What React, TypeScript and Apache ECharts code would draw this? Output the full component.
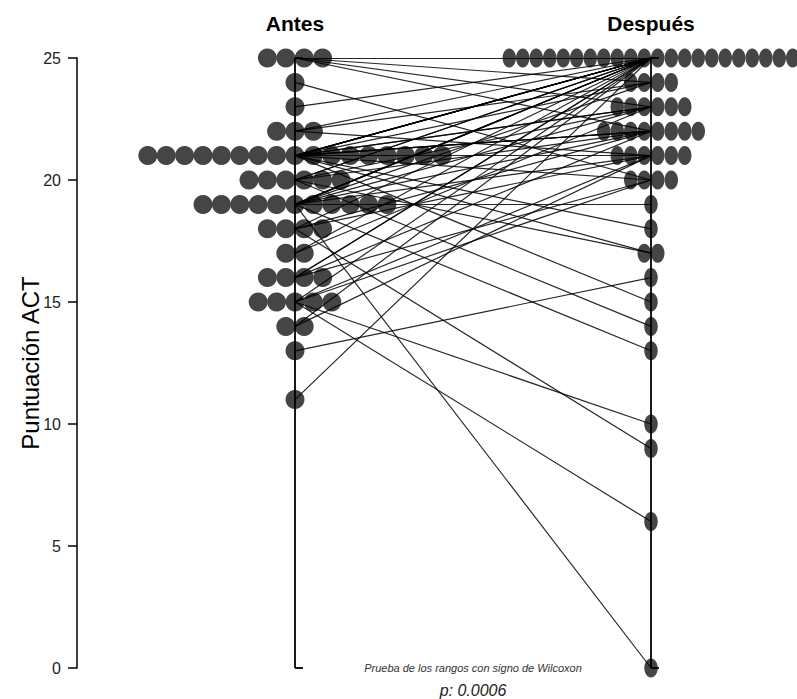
import React, { useEffect, useRef } from "react";
import * as echarts from "echarts";

const groups = ["Antes", "Después"];
const groupPos = [1, 2];
const antes = [
  25, 25, 25, 25, 24, 23, 22, 22, 22,
  21, 21, 21, 21, 21, 21, 21, 21, 21, 21, 21, 21, 21, 21, 21, 21, 21,
  20, 20, 20, 20, 20, 20,
  19, 19, 19, 19, 19, 19, 19, 19, 19, 19, 19,
  18, 18, 18, 18, 17, 17, 16, 16, 16, 16, 15, 15, 15, 15, 15, 14, 14, 13, 11,
];
const despues = [
  25, 24, 23, 22, 20, 25, 25, 24, 21,
  25, 25, 25, 25, 25, 25, 24, 23, 23, 22, 22, 22, 21, 20, 18, 17, 15,
  25, 25, 23, 22, 17, 14,
  25, 25, 25, 25, 24, 23, 22, 21, 19, 13, 0,
  25, 22, 21, 9, 25, 23, 25, 25, 22, 20, 25, 21, 20, 10, 6, 25, 21, 16, 25,
];
const yTicks = [0, 5, 10, 15, 20, 25];
const yName = "Puntuación ACT";
const testName = "Prueba de los rangos con signo de Wilcoxon";
const pText = "p: 0.0006";

const FONT = "Liberation Sans";

function dotLayout(values: number[], center: number, step: number) {
  const counts = new Map<number, number>();
  values.forEach((v) => counts.set(v, (counts.get(v) || 0) + 1));
  const out: number[][] = [];
  Array.from(counts.keys())
    .sort((a, b) => a - b)
    .forEach((v) => {
      const n = counts.get(v) as number;
      for (let i = 0; i < n; i++) out.push([center + (i - (n - 1) / 2) * step, v]);
    });
  return out;
}

export default function App() {
  const ref = useRef<HTMLDivElement>(null);
  useEffect(() => {
    if (!ref.current) return;
    const chart = echarts.init(ref.current, null, { renderer: "svg" });
    const W = 797;
    const gridLeft = 77;
    const pxPerUnit = 356;
    const xMin = groupPos[0] - (295 - gridLeft) / pxPerUnit;
    const xMax = xMin + (W - gridLeft) / pxPerUnit;
    const stepA = 18.4 / pxPerUnit;
    const stepD = 13.5 / pxPerUnit;
    const tick = 8 / pxPerUnit;
    const yMin = yTicks[0];
    const yMax = yTicks[yTicks.length - 1];

    const pairLines = antes.map((a, i) => ({
      coords: [
        [groupPos[0], a],
        [groupPos[1], despues[i]],
      ],
    }));
    const frameLines: any[] = [];
    groupPos.forEach((x) => {
      frameLines.push({ coords: [[x, yMin], [x, yMax]] });
      frameLines.push({ coords: [[x, yMin], [x + tick, yMin]] });
      frameLines.push({ coords: [[x, yMax], [x + tick, yMax]] });
    });

    chart.setOption({
      animation: false,
      grid: { left: gridLeft, right: 0, top: 58, bottom: 31 },
      xAxis: {
        type: "value",
        position: "top",
        min: xMin,
        max: xMax,
        splitLine: { show: false },
        axisLine: { show: false },
        axisTick: { show: false },
        axisLabel: {
          customValues: groupPos,
          formatter: (v: number) => groups[groupPos.indexOf(v)] ?? "",
          fontFamily: FONT,
          fontWeight: "bold",
          fontSize: 21,
          color: "#000",
          margin: 24,
        },
      },
      yAxis: {
        type: "value",
        min: yMin,
        max: yMax,
        interval: 5,
        name: yName,
        nameLocation: "middle",
        nameRotate: 90,
        nameGap: 35,
        nameMoveOverlap: false,
        nameTextStyle: { fontFamily: FONT, fontSize: 24, color: "#000" },
        splitLine: { show: false },
        axisLine: { show: true, lineStyle: { color: "#000", width: 1.5 } },
        axisTick: { show: true, length: 9, lineStyle: { color: "#000", width: 1.5 } },
        axisLabel: { fontFamily: FONT, fontSize: 16, color: "#222", margin: 16 },
      },
      series: [
        {
          type: "scatter",
          clip: false,
          silent: true,
          symbol: "circle",
          symbolSize: 19,
          itemStyle: { color: "#454545", opacity: 1 },
          data: dotLayout(antes, groupPos[0], stepA),
          z: 2,
        },
        {
          type: "scatter",
          clip: false,
          silent: true,
          symbol: "circle",
          symbolSize: [13.5, 19],
          itemStyle: { color: "#454545", opacity: 1 },
          data: dotLayout(despues, groupPos[1], stepD),
          z: 2,
        },
        {
          type: "lines",
          coordinateSystem: "cartesian2d",
          silent: true,
          lineStyle: { color: "#000", width: 1.2, opacity: 0.85 },
          data: pairLines,
          z: 3,
        },
        {
          type: "lines",
          coordinateSystem: "cartesian2d",
          silent: true,
          lineStyle: { color: "#000", width: 1.8, opacity: 1 },
          data: frameLines,
          z: 4,
        },
      ],
    });

    const mid = chart.convertToPixel({ gridIndex: 0 }, [
      (groupPos[0] + groupPos[1]) / 2,
      yMin,
    ]) as number[];
    chart.setOption({
      graphic: [
        {
          type: "text",
          x: mid[0],
          y: mid[1],
          style: {
            text: testName,
            fontFamily: FONT,
            fontStyle: "italic",
            fontSize: 11,
            fill: "#333",
            align: "center",
            verticalAlign: "middle",
          },
        },
        {
          type: "text",
          x: mid[0],
          y: mid[1] + 22,
          style: {
            text: pText,
            fontFamily: FONT,
            fontStyle: "italic",
            fontSize: 16,
            fill: "#222",
            align: "center",
            verticalAlign: "middle",
          },
        },
      ],
    });
    return () => chart.dispose();
  }, []);
  return (
    <div
      ref={ref}
      style={{ position: "absolute", left: 0, top: 0, width: 797, height: 699 }}
    />
  );
}
